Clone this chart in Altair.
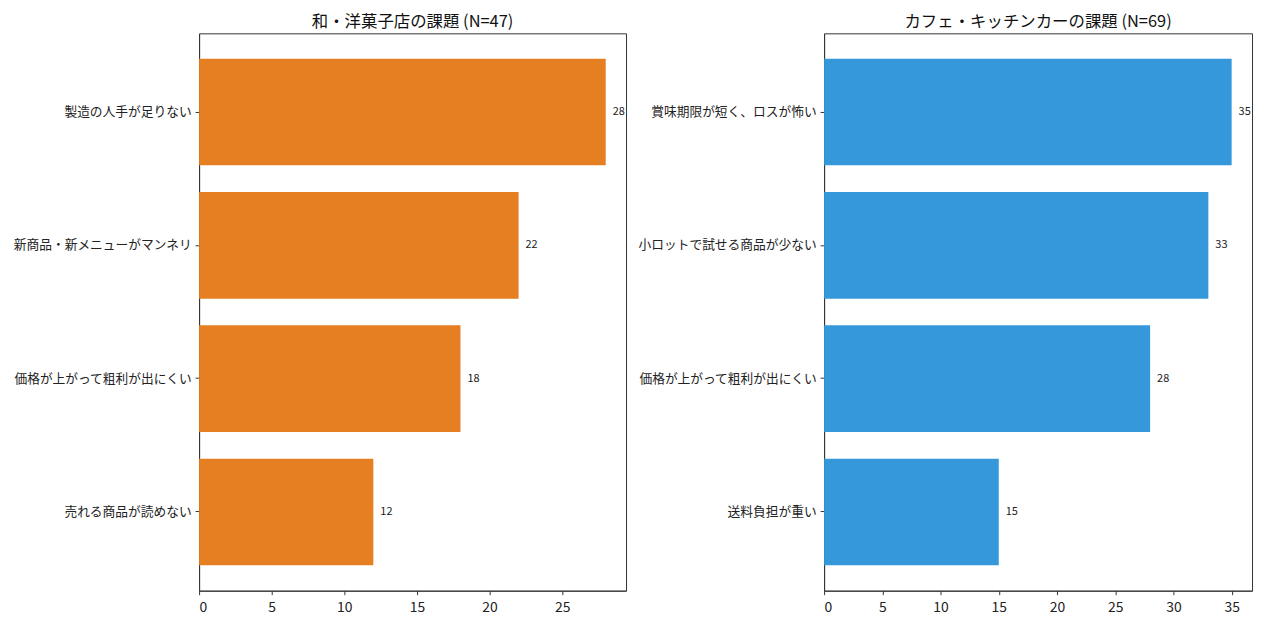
import altair as alt
import pandas as pd

left_title = "和・洋菓子店の課題 (N=47)"
left_cats = ["製造の人手が足りない", "新商品・新メニューがマンネリ", "価格が上がって粗利が出にくい", "売れる商品が読めない"]
left_vals = [28, 22, 18, 12]
left_color = "#E67E22"

right_title = "カフェ・キッチンカーの課題 (N=69)"
right_cats = ["賞味期限が短く、ロスが怖い", "小ロットで試せる商品が少ない", "価格が上がって粗利が出にくい", "送料負担が重い"]
right_vals = [35, 33, 28, 15]
right_color = "#3498DB"

FONT = "Noto Sans CJK JP"


def panel(title, cats, vals, color, width):
    df = pd.DataFrame({"cat": cats, "val": vals})
    xmax = max(vals) * 1.05
    x = alt.X(
        "val:Q",
        scale=alt.Scale(domain=[0, xmax], nice=False, zero=True),
        axis=alt.Axis(
            title=None, values=list(range(0, int(xmax) + 1, 5)), grid=False,
            labelFontSize=14, labelColor="#222", tickSize=4, tickColor="#333",
            domainColor="#333", labelPadding=6, labelFont=FONT,
        ),
    )
    y = alt.Y(
        "cat:N", sort=cats,
        scale=alt.Scale(paddingInner=0.2, paddingOuter=0.19),
        axis=alt.Axis(
            title=None, labelFontSize=12.8, labelColor="#222", tickSize=4,
            tickColor="#333", domainColor="#333", labelPadding=4,
            minExtent=186, maxExtent=186, labelLimit=300, labelFont=FONT,
        ),
    )
    bars = alt.Chart(df).mark_bar(color=color).encode(x=x, y=y)
    labels = alt.Chart(df).mark_text(
        align="left", baseline="middle", dx=7, fontSize=11, color="#222", font=FONT
    ).encode(x="val:Q", y=alt.Y("cat:N", sort=cats), text="val:Q")
    return (bars + labels).properties(
        width=width, height=560,
        view=alt.ViewBackground(stroke="#333", strokeWidth=1),
        title=alt.TitleParams(title, fontSize=16.5, fontWeight="normal", color="#111",
                              font=FONT, offset=3, anchor="middle"),
    )


left = panel(left_title, left_cats, left_vals, left_color, 429)
right = panel(right_title, right_cats, right_vals, right_color, 430)

chart = alt.hconcat(left, right, spacing=10).configure_view(
    stroke="#333", strokeWidth=1
).configure(padding={"left": 4, "top": 4, "right": 5, "bottom": 0})

chart.save("out.html", embed_options={"renderer": "svg", "actions": False})
